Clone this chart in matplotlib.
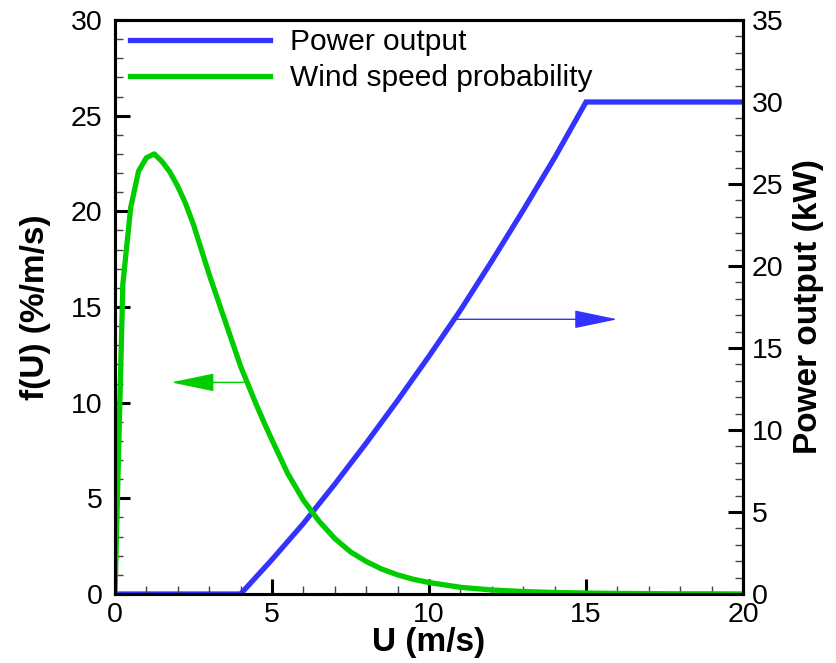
import matplotlib
matplotlib.use("Agg")
import matplotlib.pyplot as plt
from matplotlib.ticker import MultipleLocator

plt.rcParams['font.family'] = ['Liberation Sans', 'DejaVu Sans']

# ---- data ----
U_wind = [0, 0.25, 0.5, 0.75, 1.0, 1.25, 1.5, 1.75, 2.0, 2.25, 2.5, 2.75, 3.0, 3.25,
          3.5, 3.75, 4.0, 4.25, 4.5, 4.75, 5.0, 5.5, 6.0, 6.5, 7.0, 7.5, 8.0, 8.5,
          9.0, 9.5, 10.0, 11.0, 12.0, 13.0, 14.0, 15.0, 16.0, 17.0, 18.0, 19.0, 20.0]
f_wind = [0, 16.2, 20.2, 22.1, 22.8, 23.0, 22.6, 22.05, 21.3, 20.4, 19.3, 18.0, 16.7, 15.5,
          14.3, 13.1, 11.9, 10.9, 9.9, 8.95, 8.05, 6.3, 4.9, 3.8, 2.9, 2.2, 1.7, 1.3,
          1.0, 0.77, 0.6, 0.35, 0.21, 0.13, 0.08, 0.05, 0.03, 0.02, 0.01, 0.01, 0.0]

U_power = [0, 4, 5, 6, 7, 8, 9, 10, 11, 12, 13, 14, 15, 20]
P_power = [0, 0, 2.1, 4.3, 6.7, 9.2, 11.8, 14.5, 17.3, 20.3, 23.4, 26.6, 30, 30]

series_labels = ["Power output", "Wind speed probability"]

# arrow annotations (tail, tip) in data units
green_arrow_tail = (4.12, 11.06)
green_arrow_tip = (1.79, 11.06)
blue_arrow_tail = (10.84, 16.75)
blue_arrow_tip = (16.0, 16.75)

blue = '#3333FF'
green = '#00CC00'

fig = plt.figure(figsize=(8.36, 6.63), dpi=100)
ax1 = fig.add_axes([115/836, 1-594/663, (743-115)/836, (594-20)/663])
ax2 = ax1.twinx()
ax1.set_zorder(ax2.get_zorder() + 1)
ax1.patch.set_visible(False)

lw = 3.8
p_line, = ax2.plot(U_power, P_power, color=blue, lw=lw, solid_joinstyle='miter')
f_line, = ax1.plot(U_wind, f_wind, color=green, lw=lw)

ax1.set_xlim(0, 20)
ax1.set_ylim(0, 30)
ax2.set_ylim(0, 35)

for ax in (ax1, ax2):
    for s in ax.spines.values():
        s.set_linewidth(2.2)
    ax.xaxis.set_major_locator(MultipleLocator(5))
    ax.xaxis.set_minor_locator(MultipleLocator(1))
    ax.yaxis.set_major_locator(MultipleLocator(5))
    ax.yaxis.set_minor_locator(MultipleLocator(1))

ax1.tick_params(axis='both', which='major', direction='in', length=10.5, width=2.2,
                labelsize=20.5, top=False, right=False)
ax1.tick_params(axis='both', which='minor', direction='in', length=5.5, width=1.0,
                color='#444444', top=False, right=False)
ax1.tick_params(axis='x', which='major', pad=6)
ax1.tick_params(axis='y', which='major', pad=9)

ax2.tick_params(axis='y', which='major', direction='in', length=10.5, width=2.2,
                labelsize=20.5, pad=6.5, left=False, right=True)
ax2.tick_params(axis='y', which='minor', direction='in', length=5.5, width=1.0,
                color='#444444', left=False, right=True)
ax2.tick_params(axis='x', which='both', top=False, bottom=False, labeltop=False, labelbottom=False)

ax1.set_xlabel('U (m/s)', fontsize=24, fontweight='bold', labelpad=-1)
ax1.set_ylabel('f(U) (%/m/s)', fontsize=24, fontweight='bold', labelpad=14)
ax2.set_ylabel('Power output (kW)', fontsize=24, fontweight='bold', labelpad=7)

# arrows
ax1.annotate('', xy=green_arrow_tip, xytext=green_arrow_tail,
             arrowprops=dict(arrowstyle='-|>,head_length=2.74,head_width=0.57',
                             mutation_scale=10, color=green, lw=1.0,
                             shrinkA=0, shrinkB=0))
ax2.annotate('', xy=blue_arrow_tip, xytext=blue_arrow_tail,
             arrowprops=dict(arrowstyle='-|>,head_length=2.74,head_width=0.57',
                             mutation_scale=10, color=blue, lw=1.0,
                             shrinkA=0, shrinkB=0))

leg = ax1.legend([p_line, f_line], series_labels, loc='upper left',
                 bbox_to_anchor=(0.024, 0.986), frameon=False, fontsize=21.5,
                 handlelength=4.7, handletextpad=0.65, borderpad=0,
                 borderaxespad=0, labelspacing=0.28)

fig.savefig('out.png', dpi=100)
